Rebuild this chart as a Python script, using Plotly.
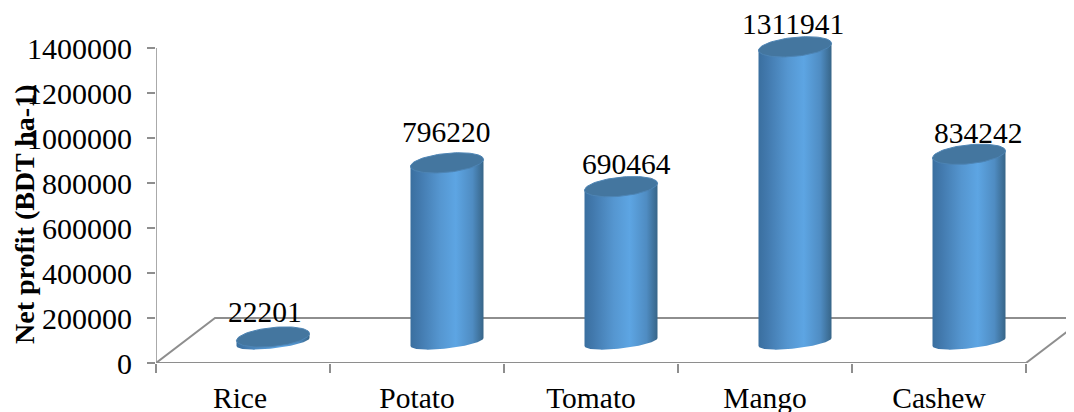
import numpy as np
import plotly.graph_objects as go

categories = ["Rice", "Potato", "Tomato", "Mango", "Cashew"]
net_profit = [22201, 796220, 690464, 1311941, 834242]
y_ticks = [0, 200000, 400000, 600000, 800000, 1000000, 1200000, 1400000]
y_title = "Net profit (BDT ha-1)"

# Layout constants (pixels); the page adds an 8 px body margin around the figure
W, H = 1074, 404
L, B = 148, 49
PLOT_W, PLOT_H = W - L, H - B
SLOT = 174
U_X = 1 / SLOT                 # category units per pixel
U_Y = 200000 / 45              # value units per pixel
DX, DY = 59, 45                # floor depth
BAR_DX, BAR_DY = 30, 21        # bar base centre offset from the front of its slot
HALF_W = 36.5
label_shift_x = [-8, -1, 5, -2, 9]
label_shift_y = [25, 31, 23, 23, 21]
category_shift = [-3, 0, 0, 0, 0]

FONT = "Liberation Serif"
GREY = "#8e8e8e"
body_scale = [[0, "#3a6f9f"], [0.12, "#4279ad"], [0.4, "#5596d0"], [0.62, "#5da5e3"],
              [0.85, "#4f8cc2"], [1, "#376588"]]


def ellipse_arc(cx, cy_val, b_px, tilt_px, t):
    x = cx + HALF_W * U_X * np.cos(t)
    y = cy_val + (tilt_px * np.cos(t) + b_px * np.sin(t)) * U_Y
    return x, y


fig = go.Figure()

# Value axis line and floor outline
fx0, fx1 = -0.5, 4.5
fig.add_trace(go.Scatter(
    x=[fx0, fx0], y=[0, y_ticks[-1]], mode="lines", line=dict(color=GREY, width=1.5),
    hoverinfo="skip", showlegend=False))
fig.add_trace(go.Scatter(
    x=[fx1, fx0, fx0 + DX * U_X, fx1 + DX * U_X, None, fx1, fx1 + DX * U_X],
    y=[0, 0, DY * U_Y, DY * U_Y, None, 0, DY * U_Y],
    mode="lines", line=dict(color=GREY, width=2),
    hoverinfo="skip", showlegend=False))

for i, (cat, v) in enumerate(zip(categories, net_profit)):
    cx = i + BAR_DX * U_X
    base = BAR_DY * U_Y
    top = base + v
    t_low = np.linspace(np.pi, 2 * np.pi, 60)
    bx, by = ellipse_arc(cx, base, 6.5, 4, t_low)
    tx, ty = ellipse_arc(cx, top, 0, 3.5, t_low[::-1])
    # body of the cylinder, shaded across its width
    fig.add_trace(go.Scatter(
        x=np.r_[bx, tx], y=np.r_[by, ty], mode="lines", fill="toself",
        line=dict(width=0), showlegend=False,
        fillgradient=dict(type="horizontal", colorscale=body_scale),
        name=cat, hoverinfo="skip"))
    # top cap
    t_all = np.linspace(0, 2 * np.pi, 90)
    ex, ey = ellipse_arc(cx, top, 9.5, 3.5, t_all)
    fig.add_trace(go.Scatter(
        x=ex, y=ey, mode="lines", fill="toself", fillcolor="#44769f",
        line=dict(width=1, color="#4d84b4"), showlegend=False,
        name=cat, hoverinfo="skip"))
    fig.add_annotation(
        x=cx, y=top, text=f"{v}", showarrow=False,
        xshift=label_shift_x[i], yshift=label_shift_y[i],
        font=dict(family=FONT, size=29.5, color="#000"))

fig.add_annotation(
    xref="paper", yref="paper", x=(24 - 156) / PLOT_W, y=(363 - 214) / PLOT_H,
    xanchor="center", yanchor="middle",
    text=f"<b>{y_title}</b>", textangle=-90, showarrow=False,
    font=dict(family=FONT, size=28, color="#000"))

fig.update_layout(
    template="none",
    width=W, height=H, margin=dict(l=L, r=0, t=0, b=B),
    paper_bgcolor="white", plot_bgcolor="white", showlegend=False,
    font=dict(family=FONT, size=29, color="#000"),
    xaxis=dict(
        range=[fx0, fx0 + PLOT_W * U_X], tickmode="array",
        tickvals=[k + category_shift[k] * U_X for k in range(5)], ticktext=categories,
        ticks="", showgrid=False, zeroline=False, showline=False, automargin=False,
        ticklabelstandoff=14, tickfont=dict(size=29.5),
        minor=dict(tickmode="array", tickvals=[k - 0.5 for k in range(6)], ticks="outside",
                   ticklen=9, tickwidth=1.5, tickcolor=GREY, showgrid=False)),
    yaxis=dict(
        range=[0, PLOT_H * U_Y], tickmode="array", tickvals=y_ticks, ticktext=[str(t) for t in y_ticks],
        ticks="outside", ticklen=8, tickwidth=1.5, tickcolor=GREY, showgrid=False, zeroline=False,
        showline=False, automargin=False, ticklabelstandoff=9, tickfont=dict(size=30)),
)

fig.write_html("out.html")
